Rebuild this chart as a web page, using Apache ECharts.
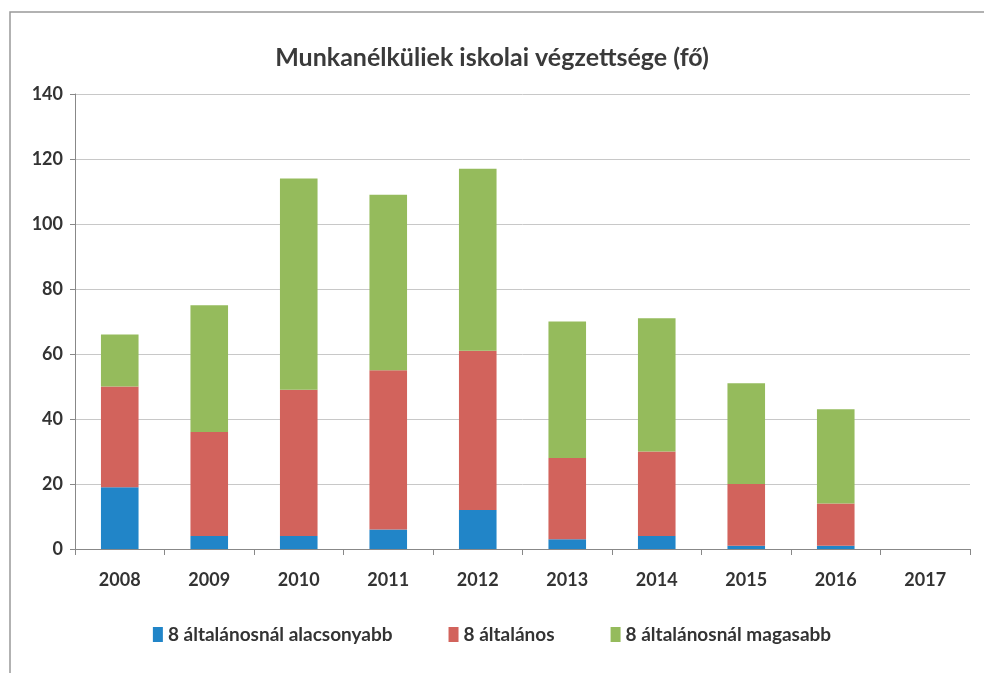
<!DOCTYPE html>
<html>
<head>
<meta charset="utf-8">
<script src="https://cdn.jsdelivr.net/npm/echarts@6/dist/echarts.min.js"></script>
<style>
  html, body { margin: 0; padding: 0; background: #fff; }
  #chart { width: 984px; height: 673px; }
</style>
</head>
<body>
<div id="chart"></div>
<script>
const years = ['2008', '2009', '2010', '2011', '2012', '2013', '2014', '2015', '2016', '2017']
const alacsonyabb = [19, 4, 4, 6, 12, 3, 4, 1, 1, null]
const altalanos = [31, 32, 45, 49, 49, 25, 26, 19, 13, null]
const magasabb = [16, 39, 65, 54, 56, 42, 41, 31, 29, null]

const font = 'Lato, "Open Sans", sans-serif'

const chart = echarts.init(document.getElementById('chart'), null, { renderer: 'canvas' })
chart.setOption({
  backgroundColor: '#fff',
  animation: false,
  textStyle: { fontFamily: font },
  title: {
    text: 'Munkanélküliek iskolai végzettsége (fő)',
    left: 'center',
    top: 40,
    textStyle: { fontSize: 25, fontWeight: 'bold', color: '#3a3a3a', fontFamily: font },
  },
  graphic: [
    {
      type: 'rect',
      shape: { x: 10, y: 12, width: 990, height: 700 },
      style: { fill: 'none', stroke: '#999', lineWidth: 1.5 },
    },
  ],
  legend: {
    bottom: 24,
    left: 'center',
    itemWidth: 10,
    itemHeight: 15,
    itemGap: 56,
    icon: 'rect',
    textStyle: { fontSize: 19, fontWeight: 'bold', color: '#333', fontFamily: font },
  },
  grid: { left: 75, right: 14, top: 94, bottom: 124 },
  xAxis: {
    type: 'category',
    data: years,
    axisLine: { lineStyle: { color: '#888' } },
    axisTick: { show: true, length: 6, lineStyle: { color: '#888' } },
    axisLabel: { fontSize: 18, fontWeight: 'bold', color: '#333', margin: 22, fontFamily: font },
  },
  yAxis: {
    type: 'value',
    min: 0,
    max: 140,
    interval: 20,
    axisLine: { show: true, lineStyle: { color: '#888' } },
    axisTick: { show: true, length: 5, lineStyle: { color: '#888' } },
    splitLine: { lineStyle: { color: '#c8c8c8' } },
    axisLabel: { fontSize: 18, fontWeight: 'bold', color: '#333', margin: 12, fontFamily: font },
  },
  series: [
    { name: '8 általánosnál alacsonyabb', type: 'bar', stack: 'a', barWidth: '42%', data: alacsonyabb, itemStyle: { color: '#2185c8' } },
    { name: '8 általános', type: 'bar', stack: 'a', barWidth: '42%', data: altalanos, itemStyle: { color: '#d2635c' } },
    { name: '8 általánosnál magasabb', type: 'bar', stack: 'a', barWidth: '42%', data: magasabb, itemStyle: { color: '#95bb5c' } },
  ],
})
</script>
</body>
</html>
